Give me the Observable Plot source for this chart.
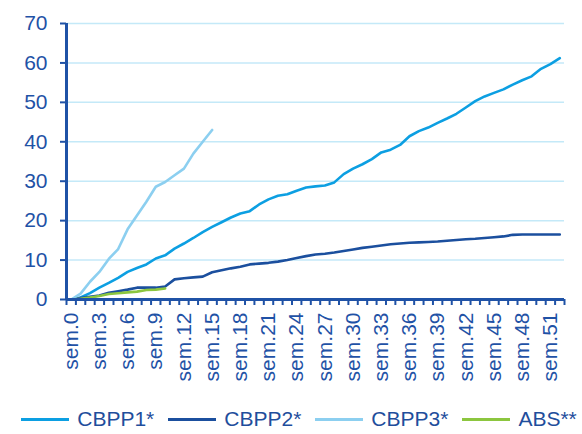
<!DOCTYPE html>
<html>
<head>
<meta charset="utf-8">
<script src="https://cdn.jsdelivr.net/npm/d3@7"></script>
<script src="https://cdn.jsdelivr.net/npm/@observablehq/plot@0.6"></script>
<style>
  html, body { margin: 0; padding: 0; background: #fff; }
  body { width: 582px; height: 434px; overflow: hidden; font-family: "Liberation Sans", Arial, sans-serif; }
  #legend { display: flex; justify-content: center; align-items: center; gap: 14px; font-size: 21px; color: #1f4e9c; margin-top: 15px; line-height: 24px; padding-left: 16px; }
  #legend .item { display: flex; align-items: center; }
  #legend .sw { width: 48px; height: 3px; margin-right: 8px; }
</style>
</head>
<body>
<div id="chart"></div>
<div id="legend"></div>
<script>
// Categories: weeks sem.0 .. sem.52
const weeks = d3.range(53);
const weekLabels = weeks.map(i => "sem." + i);
const labelWeeks = [0, 3, 6, 9, 12, 15, 18, 21, 24, 27, 30, 33, 36, 39, 42, 45, 48, 51];
const yTicks = [0, 10, 20, 30, 40, 50, 60, 70];

const seriesNames = ["CBPP1*", "CBPP2*", "CBPP3*", "ABS**"];
const seriesColors = ["#0c9fe2", "#1b4f9e", "#8ccff0", "#8cc63f"];

const cbpp1 = [0, 0.5, 1.6, 3.0, 4.2, 5.5, 7.0, 8.0, 8.9, 10.4, 11.2, 12.9, 14.2, 15.6, 17.1, 18.4,
  19.6, 20.8, 21.8, 22.4, 24.1, 25.4, 26.3, 26.7, 27.6, 28.4, 28.7, 28.9, 29.7, 31.8, 33.2, 34.3,
  35.6, 37.3, 38.0, 39.2, 41.4, 42.7, 43.6, 44.8, 45.9, 47.1, 48.7, 50.3, 51.5, 52.4, 53.3, 54.5,
  55.6, 56.6, 58.5, 59.7, 61.2];
const cbpp2 = [0, 0.4, 0.7, 1.0, 1.7, 2.1, 2.5, 3.0, 3.0, 3.0, 3.3, 5.1, 5.4, 5.6, 5.8, 6.9,
  7.4, 7.9, 8.3, 8.9, 9.1, 9.3, 9.6, 10.0, 10.5, 11.0, 11.4, 11.6, 11.9, 12.3, 12.7, 13.1,
  13.4, 13.7, 14.0, 14.2, 14.4, 14.5, 14.6, 14.7, 14.9, 15.1, 15.3, 15.4, 15.6, 15.8, 16.0, 16.4,
  16.5, 16.5, 16.5, 16.5, 16.5];
const cbpp3 = [0, 1.5, 4.5, 7.0, 10.3, 12.8, 17.8, 21.3, 24.8, 28.6, 29.8, 31.5, 33.2, 37.0, 40.0, 43.0];
const abs = [0, 0.2, 0.5, 0.9, 1.4, 1.6, 1.8, 2.0, 2.4, 2.5, 2.8];

const allSeries = [cbpp1, cbpp2, cbpp3, abs];
const rows = allSeries.flatMap((vals, s) => vals.map((v, i) => ({week: weeks[i], value: v, series: seriesNames[s]})));

const axisColor = "#1f52a6";
const edges = d3.range(54).map(i => i - 0.5);

const chart = Plot.plot({
  width: 582,
  height: 392,
  marginTop: 23,
  marginBottom: 93,
  marginLeft: 66,
  marginRight: 18,
  style: {fontFamily: "'Liberation Sans', Arial, sans-serif", color: axisColor, background: "#fff"},
  x: {type: "linear", domain: [-0.5, 52.5], axis: null, label: null},
  y: {domain: [0, 70], axis: null, label: null},
  color: {domain: seriesNames, range: seriesColors},
  marks: [
    Plot.ruleY(yTicks.filter(d => d > 0), {stroke: "#c4e9f8", strokeWidth: 1.5}),
    Plot.axisY({ticks: yTicks, tickSize: 6, tickPadding: 13, fontSize: 21, stroke: axisColor, strokeWidth: 2, fill: axisColor, label: null}),
    Plot.axisX({ticks: edges, tickSize: 6, tickFormat: () => "", stroke: axisColor, strokeWidth: 2, label: null}),
    Plot.axisX({ticks: labelWeeks, tickSize: 0, tickPadding: 13, tickRotate: -90, fontSize: 21, fill: axisColor, label: null,
      tickFormat: d => weekLabels[d]}),
    Plot.line(rows, {x: "week", y: "value", z: "series", stroke: "series", strokeWidth: 2.6, strokeLinejoin: "round"}),
    Plot.ruleX([-0.5], {stroke: axisColor, strokeWidth: 3}),
    Plot.ruleY([0], {stroke: axisColor, strokeWidth: 3})
  ]
});
document.getElementById("chart").appendChild(chart);

const legend = document.getElementById("legend");
seriesNames.forEach((name, i) => {
  const item = document.createElement("div");
  item.className = "item";
  const sw = document.createElement("div");
  sw.className = "sw";
  sw.style.background = seriesColors[i];
  const t = document.createElement("span");
  t.textContent = name;
  item.appendChild(sw);
  item.appendChild(t);
  legend.appendChild(item);
});
</script>
</body>
</html>
